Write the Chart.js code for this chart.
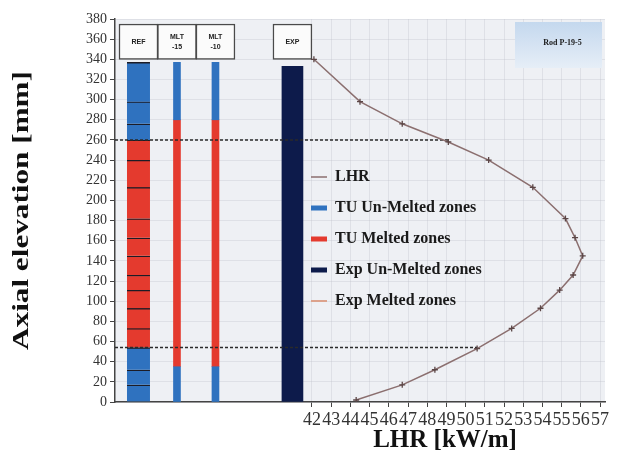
<!DOCTYPE html>
<html><head><meta charset="utf-8">
<script src="https://cdn.jsdelivr.net/npm/chart.js@4.4.1/dist/chart.umd.min.js"></script>
<style>html,body{margin:0;padding:0;background:#fff;}#wrap{width:618px;height:462px;position:relative;}</style>
</head><body><div id="wrap"><canvas id="c" width="618" height="462"></canvas></div>
<script>
// ---- data ----
const categories = ['REF', 'MLT -15', 'MLT -10', '', 'EXP'];
const boxTexts = [['REF'], ['MLT', '-15'], ['MLT', '-10'], null, ['EXP']];

const lhrElevation = [340, 298, 276, 258, 240, 213, 182, 163, 145, 126, 111, 93, 73, 53, 32, 17, 2];
const lhrValue     = [42.1, 44.5, 46.7, 49.1, 51.2, 53.5, 55.2, 55.7, 56.1, 55.6, 54.9, 53.9, 52.4, 50.6, 48.4, 46.7, 44.3];

// REF axial nodes (segment borders)
const refNodes = [0, 17, 32, 54, 73, 93, 111, 126, 145, 163, 182, 213, 240, 260, 276, 298, 337];
const refMelted = [54, 260];
const mlt15Unmelted = [[0, 35], [280, 337]];
const mlt15Melted   = [[35, 280]];
const mlt10Unmelted = [[0, 35], [280, 337]];
const mlt10Melted   = [[35, 280]];
const expUnmelted   = [[0, 333]];
const expMelted     = [];

const meltBoundaryElev = [260, 54];
const meltBoundaryLHR  = [49.1, 50.6];

const elevTicks = [0,20,40,60,80,100,120,140,160,180,200,220,240,260,280,300,320,340,360,380];
const lhrTicks  = [42,43,44,45,46,47,48,49,50,51,52,53,54,55,56,57];

const legendLabels = ['LHR', 'TU Un-Melted zones', 'TU Melted zones', 'Exp Un-Melted zones', 'Exp Melted zones'];

// ---- styles / scale settings ----
const X_MIN = 31.74, X_MAX = 57.26;
const XB_MIN = 0.39, XB_MAX = 13.12;
const C_LHR = '#8b6f6f', C_BLUE = '#2f72bf', C_RED = '#e43a2e', C_NAVY = '#0d1b4b', C_EXPM = '#dca28c';
const legendColors = [C_LHR, C_BLUE, C_RED, C_NAVY, C_EXPM];
const legendLineWidths = [1.5, 5, 5, 5, 2];
const barWidth = {'REF': 23, 'MLT -15': 7, 'MLT -10': 7, 'EXP': 21};
const SERIF = 'Liberation Serif';

const slot = name => categories.indexOf(name) + 1;

const refSegs = [];
for (let i = 0; i < refNodes.length - 1; i++) refSegs.push([refNodes[i], refNodes[i + 1]]);
const refUn = refSegs.filter(s => s[1] <= refMelted[0] || s[0] >= refMelted[1]);
const refMe = refSegs.filter(s => s[0] >= refMelted[0] && s[1] <= refMelted[1]);

function barSet(label, cat, segs, color, striped) {
  return {
    type: 'bar', label, xAxisID: 'xb', yAxisID: 'y', grouped: false,
    barThickness: barWidth[cat],
    data: segs.map(s => ({x: slot(cat), y: s})),
    backgroundColor: color,
    borderColor: '#1c1c26',
    borderWidth: striped ? {top: 1.5, right: 0, bottom: 0, left: 0} : 0,
    borderSkipped: false
  };
}

const datasets = [
  { type: 'line', label: 'LHR', xAxisID: 'x', yAxisID: 'y',
    data: lhrValue.map((v, i) => ({x: v, y: lhrElevation[i]})),
    borderColor: C_LHR, borderWidth: 1.5, tension: 0,
    pointStyle: 'cross', pointRadius: 3, pointBorderWidth: 1.3, pointBorderColor: '#5b4646', pointBackgroundColor: '#5b4646' },
];
meltBoundaryElev.forEach((e, i) => datasets.push({
  type: 'line', label: '', xAxisID: 'x', yAxisID: 'y',
  data: [{x: X_MIN, y: e}, {x: meltBoundaryLHR[i], y: e}],
  borderColor: '#2a2a2a', borderWidth: 1.5, borderDash: [3, 2], pointRadius: 0
}));
datasets.push(
  barSet('TU Un-Melted zones', 'REF', refUn, C_BLUE, true),
  barSet('TU Melted zones', 'REF', refMe, C_RED, true),
  barSet('TU Un-Melted zones', 'MLT -15', mlt15Unmelted, C_BLUE, false),
  barSet('TU Melted zones', 'MLT -15', mlt15Melted, C_RED, false),
  barSet('TU Un-Melted zones', 'MLT -10', mlt10Unmelted, C_BLUE, false),
  barSet('TU Melted zones', 'MLT -10', mlt10Melted, C_RED, false),
  barSet('Exp Un-Melted zones', 'EXP', expUnmelted, C_NAVY, false),
  { type: 'line', label: 'Exp Melted zones', xAxisID: 'x', yAxisID: 'y', data: expMelted, borderColor: C_EXPM, borderWidth: 2, pointRadius: 0 }
);
const BOX_INDEX = datasets.length;
datasets.push({
  type: 'bar', label: '', xAxisID: 'xb', yAxisID: 'y', grouped: false, barThickness: 39,
  data: categories.map((c, i) => c ? {x: i + 1, y: [340, 375]} : null).filter(Boolean),
  backgroundColor: '#fbfbfb', borderColor: '#4a4a4a', borderWidth: 1.5, borderSkipped: false
});

const bgPlugin = {
  id: 'bg',
  beforeDraw(chart) {
    const {ctx, chartArea: a} = chart;
    ctx.save(); ctx.fillStyle = '#eef0f4'; ctx.fillRect(a.left, a.top, a.right - a.left, a.bottom - a.top); ctx.restore();
  }
};
const legendMove = {
  id: 'legendMove',
  afterLayout(chart) {
    const lg = chart.legend; const w = lg.width, h = lg.height;
    lg.left = 296; lg.top = 154; lg.right = lg.left + w; lg.bottom = lg.top + h;
    lg.adjustHitBoxes();
  }
};
const boxLabels = {
  id: 'boxLabels',
  afterDatasetsDraw(chart) {
    const {ctx} = chart; const meta = chart.getDatasetMeta(BOX_INDEX);
    const texts = boxTexts.filter(Boolean);
    ctx.save(); ctx.fillStyle = '#222'; ctx.font = 'bold 7px "Liberation Sans"'; ctx.textAlign = 'center'; ctx.textBaseline = 'middle';
    meta.data.forEach((el, i) => {
      const lines = texts[i]; const cy = (el.y + el.base) / 2;
      lines.forEach((t, j) => ctx.fillText(t, el.x, cy + (j - (lines.length - 1) / 2) * 10));
    });
    ctx.restore();
  }
};
const extras = {
  id: 'extras',
  afterDraw(chart) {
    const {ctx, chartArea: a} = chart;
    ctx.save();
    // rod label box
    const bx = a.right - 90, by = a.top + 3, bw = 87, bh = 46;
    const g = ctx.createLinearGradient(0, by, 0, by + bh);
    g.addColorStop(0, '#c4d8ee'); g.addColorStop(1, '#e6eef7');
    ctx.fillStyle = g; ctx.fillRect(bx, by, bw, bh);
    ctx.fillStyle = '#1a1a1a'; ctx.font = 'bold 8px ' + SERIF; ctx.textAlign = 'center'; ctx.textBaseline = 'middle';
    ctx.fillText('Rod P-19-5', bx + bw / 2 + 4, by + 21);
    // axis titles
    ctx.fillStyle = '#111';
    ctx.font = 'bold 25px ' + SERIF;
    ctx.fillText('LHR [kW/m]', 445, 441);
    ctx.translate(22, (a.top + a.bottom) / 2); ctx.rotate(-Math.PI / 2); ctx.scale(1.3, 1);
    ctx.font = 'bold 24px ' + SERIF;
    ctx.fillText('Axial elevation [mm]', 0, 0);
    ctx.restore();
  }
};

new Chart(document.getElementById('c'), {
  type: 'bar',
  data: { datasets },
  options: {
    responsive: false, animation: false,
    layout: { padding: { top: 19, right: 13, left: 0, bottom: 0 } },
    plugins: {
      tooltip: { enabled: false },
      legend: {
        position: 'chartArea', align: 'start',
        labels: {
          usePointStyle: true, pointStyleWidth: 16, padding: 15,
          font: { family: SERIF, size: 16, weight: 'bold' }, color: '#1a1a1a',
          generateLabels: () => legendLabels.map((t, i) => ({
            text: t, fillStyle: legendColors[i], strokeStyle: legendColors[i], lineWidth: legendLineWidths[i],
            pointStyle: 'line', hidden: false, fontColor: '#1a1a1a', datasetIndex: 0
          }))
        }
      }
    },
    scales: {
      x: {
        type: 'linear', position: 'bottom', min: X_MIN, max: X_MAX, bounds: 'data', offset: false,
        afterBuildTicks: s => { s.ticks = lhrTicks.map(v => ({value: v})); },
        ticks: { autoSkip: false, maxRotation: 0, padding: 2, color: '#333', font: { family: SERIF, size: 18 } },
        grid: { offset: false, color: 'rgba(185,190,200,0.3)', tickColor: '#444', tickLength: 5 },
        border: { display: true, color: '#444', width: 1.5 },
        afterFit: s => { s.height = 60; }
      },
      xb: { type: 'linear', position: 'bottom', min: XB_MIN, max: XB_MAX, display: false, offset: false, grid: { offset: false } },
      y: {
        type: 'linear', position: 'left', min: 0, max: 380,
        afterBuildTicks: s => { s.ticks = elevTicks.map(v => ({value: v})); },
        ticks: { padding: 3, color: '#333', font: { family: SERIF, size: 14 } },
        grid: { color: 'rgba(185,190,200,0.3)', tickColor: '#444', tickLength: 5 },
        border: { display: true, color: '#444', width: 1.5 },
        afterFit: s => { s.width = 115; }
      }
    }
  },
  plugins: [bgPlugin, legendMove, boxLabels, extras]
});
</script></body></html>
